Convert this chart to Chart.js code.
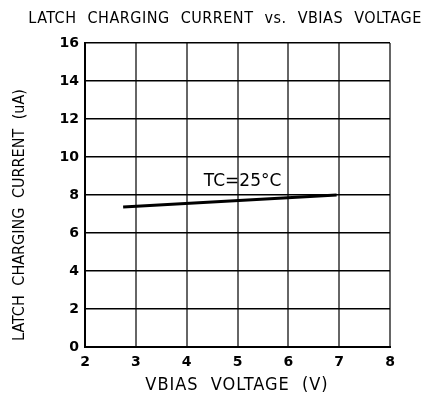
<!DOCTYPE html>
<html>
<head>
<meta charset="utf-8">
<script src="https://cdn.jsdelivr.net/npm/chart.js@4"></script>
<style>
  html, body { margin: 0; padding: 0; background: #fff; }
  #wrap { width: 441px; height: 401px; }
</style>
</head>
<body>
<div id="wrap"><canvas id="latchChart" width="441" height="401"></canvas></div>
<script>
// data
const vbias = [2.75, 6.95];
const current = [7.37, 8.0];
const xTicks = [2, 3, 4, 5, 6, 7, 8];
const yTicks = [0, 2, 4, 6, 8, 10, 12, 14, 16];
const curveLabel = "TC=25°C";
const labelAt = { x: 5.1, y: 8.7 };

const titleFont = "16px 'DejaVu Sans Condensed'";

// titles + curve label drawn on top of the chart
const textPlugin = {
  id: "texts",
  afterDraw(chart) {
    const ctx = chart.ctx;
    const sx = chart.scales.x, sy = chart.scales.y;
    ctx.save();
    ctx.fillStyle = "#000";
    ctx.textAlign = "center";
    ctx.textBaseline = "middle";
    ctx.font = titleFont;
    ctx.letterSpacing = "0.5px";
    ctx.wordSpacing = "6px";
    ctx.fillText("LATCH CHARGING CURRENT vs. VBIAS VOLTAGE", 225, 19);
    ctx.font = "18px 'DejaVu Sans Condensed'";
    ctx.letterSpacing = "1px";
    ctx.wordSpacing = "6px";
    ctx.fillText("VBIAS VOLTAGE (V)", 237, 385);
    ctx.font = titleFont;
    ctx.letterSpacing = "0px";
    ctx.wordSpacing = "5px";
    ctx.translate(20, 215);
    ctx.rotate(-Math.PI / 2);
    ctx.fillText("LATCH CHARGING CURRENT (uA)", 0, 0);
    ctx.restore();

    ctx.save();
    ctx.fillStyle = "#000";
    ctx.font = "17px 'DejaVu Sans'";
    ctx.textAlign = "center";
    ctx.textBaseline = "middle";
    ctx.fillText(curveLabel, sx.getPixelForValue(labelAt.x), sy.getPixelForValue(labelAt.y));
    ctx.restore();
  }
};

new Chart(document.getElementById("latchChart"), {
  type: "scatter",
  data: {
    datasets: [{
      data: vbias.map((v, i) => ({ x: v, y: current[i] })),
      showLine: true,
      borderColor: "#000",
      borderWidth: 3,
      pointRadius: 0,
      fill: false,
    }],
  },
  options: {
    responsive: false,
    animation: false,
    layout: { padding: { left: 0, top: 43, right: 51, bottom: 0 } },
    plugins: {
      legend: { display: false },
      tooltip: { enabled: false },
    },
    scales: {
      x: {
        type: "linear",
        min: 2,
        max: 8,
        afterBuildTicks: (s) => { s.ticks = xTicks.map(v => ({ value: v })); },
        afterFit: (s) => { s.height = 54; },
        grid: { color: "#666", lineWidth: 2, drawTicks: false },
        border: { color: "#000", width: 2 },
        ticks: { color: "#000", padding: 7, font: { family: "DejaVu Sans", size: 14, weight: "bold" } },
      },
      y: {
        type: "linear",
        min: 0,
        max: 16,
        afterBuildTicks: (s) => { s.ticks = yTicks.map(v => ({ value: v })); },
        afterFit: (s) => { s.width = 85; },
        grid: { color: "#000", lineWidth: 1.5, drawTicks: false },
        border: { color: "#000", width: 2 },
        ticks: { color: "#000", padding: 6, font: { family: "DejaVu Sans", size: 14, weight: "bold" } },
      },
    },
  },
  plugins: [textPlugin],
});
</script>
</body>
</html>
